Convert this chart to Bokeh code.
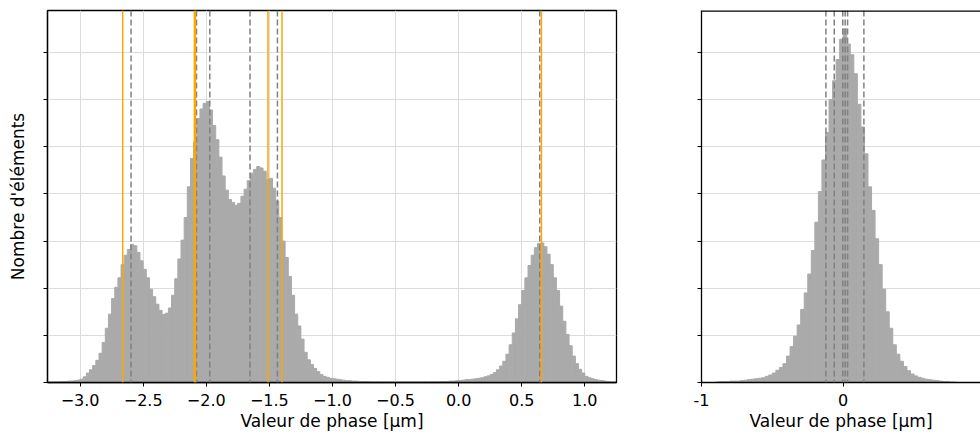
import numpy as np
from bokeh.plotting import figure
from bokeh.models import Span, FixedTicker, Range1d, ColumnDataSource
from bokeh.layouts import row
from bokeh.embed import file_html
from bokeh.resources import INLINE

# ---------------- data ----------------
left_bin_start = -3.2
left_bin_width = 0.025
left_counts = [
    0.01, 0.01, 0.02, 0.02, 0.03, 0.03, 0.04, 0.05,
    0.07, 0.12, 0.20, 0.27, 0.36, 0.47, 0.62, 0.85,
    1.15, 1.45, 1.78, 2.02, 2.22, 2.50, 2.70, 2.82,
    2.93, 2.90, 2.76, 2.58, 2.40, 2.22, 1.98, 1.82,
    1.66, 1.53, 1.44, 1.47, 1.58, 1.85, 2.20, 2.62,
    3.02, 3.50, 4.15, 4.75, 5.10, 5.60, 5.80, 5.92,
    5.96, 5.78, 5.45, 5.15, 4.78, 4.38, 4.08, 3.88,
    3.82, 3.76, 3.80, 3.95, 4.10, 4.28, 4.44, 4.52,
    4.58, 4.55, 4.48, 4.30, 4.33, 4.12, 3.85, 3.50,
    3.00, 2.65, 2.25, 1.85, 1.45, 1.20, 0.92, 0.64,
    0.48, 0.38, 0.30, 0.23, 0.17, 0.13, 0.11, 0.09,
    0.08, 0.07, 0.06, 0.05, 0.04, 0.04, 0.03, 0.03,
    0.02, 0.02, 0.02, 0.01, 0.01, 0.00, 0.01, 0.00,
    0.00, 0.00, 0.00, 0.00, 0.00, 0.00, 0.00, 0.00,
    0.00, 0.00, 0.00, 0.00, 0.00, 0.01, 0.00, 0.01,
    0.01, 0.01, 0.02, 0.02, 0.02, 0.03, 0.03, 0.04,
    0.04, 0.05, 0.06, 0.06, 0.07, 0.08, 0.09, 0.10,
    0.12, 0.14, 0.17, 0.21, 0.27, 0.35, 0.45, 0.60,
    0.80, 1.05, 1.35, 1.65, 1.95, 2.22, 2.48, 2.70,
    2.86, 2.95, 2.96, 2.88, 2.72, 2.50, 2.22, 1.95,
    1.62, 1.30, 1.02, 0.78, 0.56, 0.40, 0.28, 0.20,
    0.13, 0.10, 0.08, 0.06, 0.05, 0.04, 0.03, 0.02,
]

right_bin_start = -0.9
right_bin_width = 0.025
right_counts = [
    0.01, 0.02, 0.02, 0.02, 0.03, 0.03, 0.03, 0.04,
    0.05, 0.06, 0.07, 0.08, 0.09, 0.10, 0.13, 0.16,
    0.20, 0.26, 0.32, 0.40, 0.56, 0.76, 0.98, 1.22,
    1.55, 1.90, 2.30, 2.80, 3.40, 4.05, 4.72, 5.30,
    6.00, 6.40, 6.85, 7.28, 7.50, 7.18, 6.95, 6.55,
    5.90, 5.42, 4.85, 4.15, 3.65, 3.05, 2.50, 1.98,
    1.50, 1.15, 0.80, 0.60, 0.45, 0.34, 0.25, 0.18,
    0.14, 0.11, 0.09, 0.07, 0.06, 0.05, 0.04, 0.03,
    0.02, 0.02, 0.01, 0.01,
]

orange_lines_left = [-2.662, -2.094, -2.086, -1.511, -1.400, 0.656]
grey_lines_left = [-2.596, -2.077, -1.972, -1.653, -1.436, 0.643]
grey_lines_right = [-0.122, -0.063, -0.003, 0.014, 0.031, 0.146]

x_ticks_left = [-3.0, -2.5, -2.0, -1.5, -1.0, -0.5, 0.0, 0.5, 1.0]
x_tick_labels_left = ["−3.0", "−2.5", "−2.0", "−1.5", "−1.0", "−0.5", "0.0", "0.5", "1.0"]
x_ticks_right = [-1, 0, 1]
x_tick_labels_right = ["-1", "0", "1"]
y_ticks = [0, 1, 2, 3, 4, 5, 6, 7]
y_tick_labels = ["", "", "", "", "", "", "", ""]

x_label = "Valeur de phase [μm]"
y_label = "Nombre d'éléments"

# ---------------- styles ----------------
FONT = "DejaVu Sans"
BAR_COLOR = "#aaaaaa"
GRID_COLOR = "#dcdcdc"
Y_MAX = 7.89


def hist_source(start, width, counts):
    n = len(counts)
    left = start + width * np.arange(n)
    return ColumnDataSource(dict(left=left, right=left + width,
                                 top=np.array(counts), bottom=np.zeros(n)))


def style_axes(p, xticks, xlabels):
    p.xaxis.ticker = FixedTicker(ticks=xticks)
    p.xaxis.major_label_overrides = dict(zip(xticks, xlabels))
    p.yaxis.ticker = FixedTicker(ticks=y_ticks)
    p.yaxis.major_label_overrides = dict(zip(y_ticks, y_tick_labels))
    p.yaxis.major_label_standoff = 0
    for ax in (p.xaxis, p.yaxis):
        ax.minor_tick_line_color = None
        ax.major_tick_in = 0
        ax.major_tick_out = 4
        ax.major_tick_line_color = "black"
        ax.axis_line_color = "black"
        ax.axis_line_width = 1.3
        ax.major_label_text_font = FONT
        ax.axis_label_text_font = FONT
        ax.axis_label_text_font_style = "normal"
        ax.axis_label_text_color = "black"
        ax.major_label_text_color = "black"
    p.xaxis.major_label_text_font_size = "16px"
    p.xaxis.axis_label_text_font_size = "17px"
    p.xaxis.major_label_standoff = 7
    p.xaxis.axis_label_standoff = 2
    p.xaxis.axis_label = x_label


# ---------------- left figure ----------------
p1 = figure(width=660, height=434, output_backend="svg", toolbar_location=None,
            x_range=Range1d(-3.258, 1.251), y_range=Range1d(0, Y_MAX),
            min_border_left=47, min_border_right=44, min_border_top=10, min_border_bottom=52)
p1.background_fill_color = "white"
p1.border_fill_color = "white"
p1.outline_line_color = "black"
p1.outline_line_width = 1.3
p1.quad(left="left", right="right", top="top", bottom="bottom",
        source=hist_source(left_bin_start, left_bin_width, left_counts),
        fill_color=BAR_COLOR, line_color=BAR_COLOR, line_width=1.0)
style_axes(p1, x_ticks_left, x_tick_labels_left)
p1.xgrid.grid_line_color = GRID_COLOR
p1.ygrid.grid_line_color = GRID_COLOR
p1.yaxis.axis_label = y_label
p1.yaxis.axis_label_text_font_size = "17px"
p1.yaxis.axis_label_standoff = 16
for loc in grey_lines_left:
    p1.add_layout(Span(location=loc, dimension="height", line_color="gray",
                       line_width=1.5, line_dash="6 3"))
for loc in orange_lines_left:
    p1.add_layout(Span(location=loc, dimension="height", line_color="orange",
                       line_width=1.5))

# ---------------- right figure ----------------
p2 = figure(width=320, height=434, output_backend="svg", toolbar_location=None,
            x_range=Range1d(-1.0, 0.969), y_range=p1.y_range,
            min_border_left=41, min_border_right=0, min_border_top=10, min_border_bottom=52)
p2.background_fill_color = "white"
p2.border_fill_color = "white"
p2.outline_line_color = None
p2.quad(left="left", right="right", top="top", bottom="bottom",
        source=hist_source(right_bin_start, right_bin_width, right_counts),
        fill_color=BAR_COLOR, line_color=BAR_COLOR, line_width=1.0)
style_axes(p2, x_ticks_right, x_tick_labels_right)
p2.xgrid.grid_line_color = None
p2.ygrid.grid_line_color = GRID_COLOR
for loc in grey_lines_right:
    p2.add_layout(Span(location=loc, dimension="height", line_color="gray",
                       line_width=1.5, line_dash="6 3"))
p2.add_layout(Span(location=Y_MAX, dimension="width", line_color="black", line_width=2.5))

layout = row(p1, p2)
open("out.html", "w").write(file_html(layout, INLINE))
